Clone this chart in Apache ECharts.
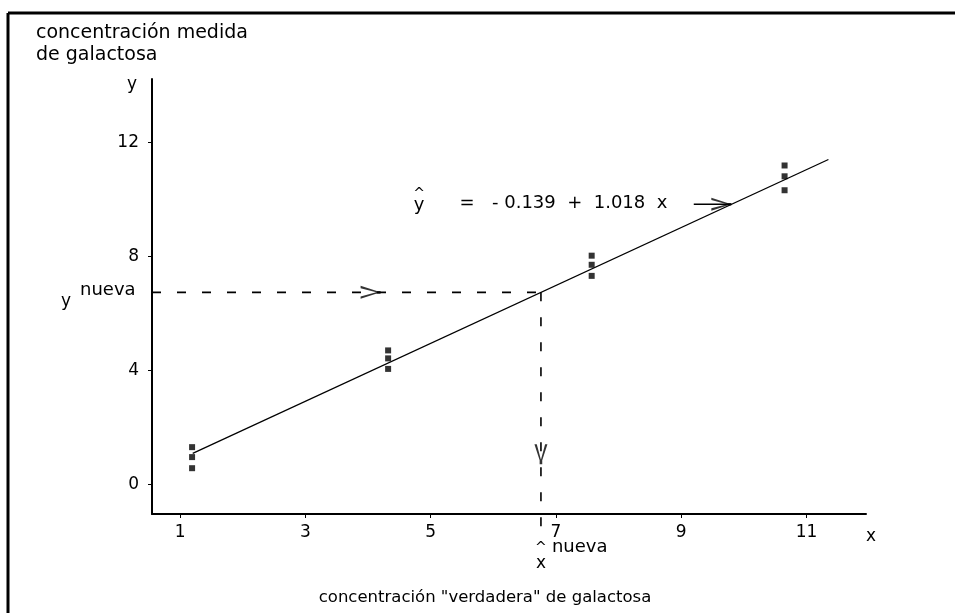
<!DOCTYPE html>
<html><head><meta charset="utf-8">
<script src="https://cdn.jsdelivr.net/npm/echarts@6/dist/echarts.min.js"></script>
<style>html,body{margin:0;padding:0;background:#fff}#c{width:955px;height:613px}</style>
</head><body><div id="c"></div>
<script>
// ---- data ----
const xTickValues = [1, 3, 5, 7, 9, 11];
const yTickValues = [0, 4, 8, 12];
const obsX = [1.19, 1.19, 1.19, 4.32, 4.32, 4.32, 7.57, 7.57, 7.57, 10.65, 10.65, 10.65];
const obsY = [0.56, 0.95, 1.30, 4.05, 4.42, 4.70, 7.32, 7.71, 8.03, 10.33, 10.82, 11.20];
const fitX = [1.2, 11.35];
const fitY = [1.08, 11.41];
const xNueva = 6.76;
const yNueva = 6.74;
const hDashX = [0.55, xNueva];
const vDashY = [yNueva, -1.5];
const eqArrowX = [9.2, 9.8];
const eqArrowY = [9.84, 9.84];
const arrowHeadX = [4.2, xNueva, 9.8];
const arrowHeadY = [yNueva, 0.7, 9.84];
const arrowHeadDir = ['right', 'down', 'right'];
const equationText = ['=', '- 0.139  +  1.018  x'];

const FONT = '"DejaVu Sans", sans-serif';
const chart = echarts.init(document.getElementById('c'), null, {renderer: 'canvas'});

const arrowPath = 'path://M0,0 L16,5 L0,10 L0,8.2 L12.5,5 L0,1.8 Z M12,4 L16,4 L16,6 L12,6 Z';
const dirRotate = {right: 0, down: -90};
const dirOffset = {right: [-10, 0], down: [0, -10]};

const option = {
  animation: false,
  backgroundColor: '#fff',
  grid: {left: 152, right: 89, top: 79, bottom: 99, containLabel: false},
  xAxis: {
    type: 'value', min: 0.55, max: 11.95,
    name: 'x', nameLocation: 'end', nameGap: 0,
    nameTextStyle: {fontFamily: FONT, fontSize: 17, color: '#000', verticalAlign: 'top', align: 'left', padding: [14, 0, 0, 0]},
    axisLine: {show: true, onZero: false, lineStyle: {color: '#000', width: 2}},
    axisTick: {show: true, inside: false, length: 4, customValues: xTickValues, lineStyle: {color: '#000', width: 1}},
    axisLabel: {show: true, margin: 10, customValues: xTickValues, fontFamily: FONT, fontSize: 17, color: '#000'},
    splitLine: {show: false}
  },
  yAxis: {
    type: 'value', min: -1.05, max: 14.24,
    axisLine: {show: true, onZero: false, lineStyle: {color: '#000', width: 2}},
    axisTick: {show: true, inside: false, length: 4, customValues: yTickValues, lineStyle: {color: '#000', width: 1}},
    axisLabel: {show: true, margin: 13, customValues: yTickValues, fontFamily: FONT, fontSize: 17, color: '#000'},
    splitLine: {show: false}
  },
  series: [
    {type: 'line', data: fitX.map((x, i) => [x, fitY[i]]), symbol: 'none',
     lineStyle: {color: '#000', width: 1.3}, z: 3},
    {type: 'scatter', data: obsX.map((x, i) => [x, obsY[i]]), symbol: 'rect', symbolSize: 6,
     itemStyle: {color: '#000'}, z: 4},
    {type: 'line', data: hDashX.map(x => [x, yNueva]), symbol: 'none',
     lineStyle: {color: '#000', width: 1.6, type: [9, 16]}, z: 2},
    {type: 'line', clip: false, data: vDashY.map(y => [xNueva, y]), symbol: 'none',
     lineStyle: {color: '#000', width: 1.6, type: [9, 16]}, z: 2},
    {type: 'line', data: eqArrowX.map((x, i) => [x, eqArrowY[i]]), symbol: 'none',
     lineStyle: {color: '#000', width: 1.4}, z: 3},
    {type: 'scatter', clip: false,
     data: arrowHeadX.map((x, i) => ({value: [x, arrowHeadY[i]],
       symbolRotate: dirRotate[arrowHeadDir[i]], symbolOffset: dirOffset[arrowHeadDir[i]]})),
     symbol: arrowPath, symbolSize: [20, 13], itemStyle: {color: '#000'}, z: 5}
  ]
};
chart.setOption(option);

function px(x, y) { return chart.convertToPixel({gridIndex: 0}, [x, y]); }
function txt(text, x, y, size, align, valign) {
  return {type: 'text', silent: true, z: 10,
    style: {text: text, x: x, y: y, fill: '#000', font: size + 'px ' + FONT,
      textAlign: align || 'left', textVerticalAlign: valign || 'middle'}};
}
const pEq = px(9.2, 9.84);
const pY = px(xNueva, yNueva);
const pX = px(xNueva, -1.05);
const pAxisTop = px(0.55, 14.24);
const g = [
  {type: 'line', silent: true, shape: {x1: 8, y1: 13, x2: 955, y2: 13}, style: {stroke: '#000', lineWidth: 3}},
  {type: 'line', silent: true, shape: {x1: 8, y1: 13, x2: 8, y2: 613}, style: {stroke: '#000', lineWidth: 3}},
  txt('concentración medida', 36, 33, 19),
  txt('de galactosa', 36, 55, 19),
  txt('y', pAxisTop[0] - 25, pAxisTop[1] + 6, 17),
  txt('concentración "verdadera" de galactosa', 485, 598, 16.5, 'center'),
  txt('^', 419, pEq[1] - 10, 14, 'center'),
  txt('y', 419, pEq[1] + 1, 18, 'center'),
  txt(equationText[0], 467, pEq[1] - 1, 18, 'center'),
  txt(equationText[1], 492, pEq[1] - 1, 18, 'left'),
  txt('y', 61, pY[1] + 9, 17, 'left'),
  txt('nueva', 80, pY[1] - 2, 18, 'left'),
  txt('^', pX[0], pX[1] + 34, 14, 'center'),
  txt('nueva', pX[0] + 11, pX[1] + 33, 18, 'left'),
  txt('x', pX[0], pX[1] + 50, 17, 'center')
];
chart.setOption({graphic: g});
</script>
</body></html>
